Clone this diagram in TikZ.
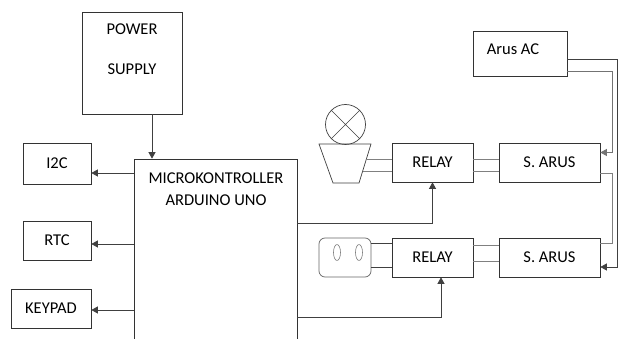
\documentclass[tikz,border=0pt]{standalone}
\usepackage{fontspec}
\setmainfont{Carlito}
\usetikzlibrary{arrows.meta}

\tikzset{
  blok/.style={draw=black!80, line width=0.7pt, inner sep=0pt, font=\fontsize{16.5}{20}\selectfont},
  teks/.style={inner sep=0pt, align=center, font=\fontsize{16.5}{20}\selectfont},
  kabel/.style={draw=black!75, line width=0.7pt},
  kabelabu/.style={draw=black!50, line width=0.7pt},
  panah/.style={kabel, -{Triangle[length=6.5pt,width=7pt]}},
}

\begin{document}
\begin{tikzpicture}[x=1pt,y=-1pt]
\clip (0,0) rectangle (619,339);
\fill[white] (0,0) rectangle (619,339);

% bagian kiri
\node[blok, minimum width=100pt, minimum height=102pt] (power) at (132,63) {};
\node[teks] (powertxt) at (132,49) {POWER\\[20pt]SUPPLY};
\node[blok, minimum width=163pt, minimum height=190pt] (micro) at (215.5,254) {};
\node[teks] (microtxt) at (216,189) {MICROKONTROLLER\\[2pt]ARDUINO UNO};
\node[blok, minimum width=68pt, minimum height=41pt] (i2c) at (57,163.5) {I2C};
\node[blok, minimum width=68pt, minimum height=39pt] (rtc) at (57,240.5) {RTC};
\node[blok, minimum width=80pt, minimum height=39pt] (keypad) at (51,308.5) {KEYPAD};

\draw[panah] ([xshift=20pt]power.south) -- ([xshift=20pt]power.south |- micro.north);
\draw[panah] ([yshift=-9.5pt]i2c.east -| micro.west) -- ([yshift=-9.5pt]i2c.east);
\draw[panah] ([yshift=-3.5pt]rtc.east -| micro.west) -- ([yshift=-3.5pt]rtc.east);
\draw[panah] ([yshift=-1.5pt]keypad.east -| micro.west) -- ([yshift=-1.5pt]keypad.east);

% beban
\node[circle, draw=black!75, line width=0.7pt, minimum size=40pt, inner sep=0pt] (lamp) at (345.5,124.5) {};
\draw[kabel] (lamp.north west) -- (lamp.south east) (lamp.north east) -- (lamp.south west);
\draw[kabel] (319,144) -- (371,144) -- (359,183) -- (333,183) -- cycle;
\coordinate (base1) at (366.4,159);
\coordinate (base2) at (362.7,171);

\node[blok, draw=black!60, rounded corners=6pt, minimum width=52pt, minimum height=39pt] (socket) at (345,257.5) {};
\draw[kabelabu, line width=0.6pt] (337,252.5) ellipse (3.5 and 8) (359,252.5) ellipse (3.5 and 8);

% relay dan sensor arus
\node[blok, minimum width=81pt, minimum height=39pt] (relay1) at (432.5,162.5) {RELAY};
\node[blok, minimum width=101pt, minimum height=39pt] (sarus1) at (549.5,162.5) {S. ARUS};
\node[blok, minimum width=81pt, minimum height=39pt] (relay2) at (432.5,257.5) {RELAY};
\node[blok, minimum width=101pt, minimum height=39pt] (sarus2) at (549.5,257.5) {S. ARUS};
\node[blok, minimum width=94pt, minimum height=45pt] (ac) at (520,53.5) {};
\node[teks] (actxt) at (513,49) {Arus AC};

\draw[kabelabu] (base1) -- (base1 -| relay1.west) (base2) -- (base2 -| relay1.west);
\draw[kabelabu] ([yshift=3.5pt]relay1.east) -- ([yshift=3.5pt]sarus1.west)
                ([yshift=-8.5pt]relay1.east) -- ([yshift=-8.5pt]sarus1.west);
\draw[kabel] ([yshift=14.5pt]socket.east) -- ([yshift=14.5pt]relay2.west)
             ([yshift=-9.5pt]socket.east) -- ([yshift=-9.5pt]relay2.west);
\draw[kabelabu] ([yshift=12.5pt]relay2.east) -- ([yshift=12.5pt]sarus2.west)
                ([yshift=-3.5pt]relay2.east) -- ([yshift=-3.5pt]sarus2.west);

\draw[panah] ([yshift=31pt]micro.east) -| (relay1.south);
\draw[panah] ([yshift=-63pt]micro.east) -| ([xshift=8.5pt]relay2.south);

% jalur arus AC
\draw[panah] ([yshift=-5.5pt]ac.east) -- ++(50,0) |- ([yshift=-9.5pt]sarus2.east);
\draw[panah, draw=black!55] ([yshift=-17.5pt]ac.east) -- ++(45,0) |- ([yshift=10pt]sarus1.east);
\draw[kabelabu] ([yshift=-10.5pt]sarus1.east) -- ++(12,0) |- ([yshift=14.5pt]sarus2.east);
\end{tikzpicture}
\end{document}
